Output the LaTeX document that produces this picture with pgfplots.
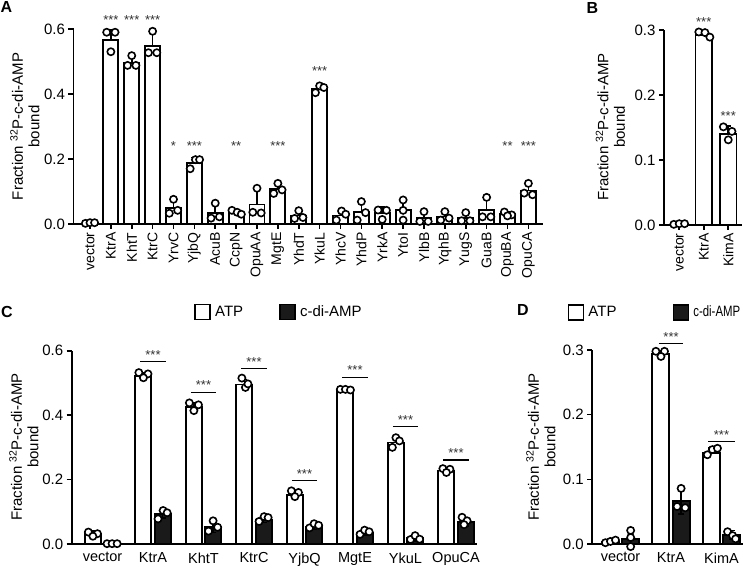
\documentclass[border=0pt]{standalone}
\usepackage{fontspec}
\setmainfont{Liberation Sans}
\usepackage{graphicx}
\usepackage{pgfplots}
\pgfplotsset{compat=1.18}
\definecolor{dark}{HTML}{1A1A1A}
\tikzset{sigstar/.style={anchor=base, font=\fontsize{13}{13}\selectfont, text=black!80}}
\pgfplotsset{
  gp/.style={
    scale only axis, anchor=south west, clip=false,
    axis x line*=bottom, axis y line*=left,
    axis line style={line width=1.9pt, -},
    tick align=outside, major tick length=5pt,
    major tick style={line width=1.6pt, black},
    ymin=0,
    /pgf/number format/assume math mode=true,
    yticklabel style={font=\fontsize{15}{15}\selectfont, /pgf/number format/.cd, fixed, fixed zerofill, precision=1},
    xticklabel style={font=\fontsize{14}{14}\selectfont},
  },
  wbar/.style={ybar, bar shift=0pt, bar width=#1, fill=white, draw=black, line width=1.9pt,
    error bars/.cd, y dir=plus, y explicit,
    error bar style={line width=1.6pt, black},
    error mark options={rotate=90, mark size=3pt, line width=1.6pt, black}},
  kbar/.style={ybar, bar shift=0pt, bar width=#1, fill=dark, draw=black, line width=1.9pt,
    error bars/.cd, y dir=both, y explicit,
    error bar style={line width=1.6pt, black},
    error mark options={rotate=90, mark size=3pt, line width=1.6pt, black}},
  dots/.style={only marks, mark=*, mark size=3.6pt, mark options={fill=white, draw=black, line width=1.6pt}},
  wleg/.style={legend image code/.code={\draw[line width=1.8pt, draw=black, fill=white] (0pt,-7.5pt) rectangle (15pt,7.5pt);}},
  kleg/.style={legend image code/.code={\draw[line width=1.8pt, draw=black, fill=dark] (0pt,-7.5pt) rectangle (15pt,7.5pt);}},
}
\begin{document}
\begin{tikzpicture}
\useasboundingbox (0,0) rectangle (745pt,570pt);
% ---------------- Panel A
\begin{axis}[gp, at={(73.5pt,346pt)}, width=469.5pt, height=195pt,
  xmin=-0.79, xmax=21.7, ymax=0.6, ytick={0,0.2,0.4,0.6},
  xtick={0,...,21},
  xticklabels={vector,KtrA,KhtT,KtrC,YrvC,YjbQ,AcuB,CcpN,OpuAA,MgtE,YhdT,YkuL,YhcV,YhdP,YrkA,YtoI,YlbB,YqhB,YugS,GuaB,OpuBA,OpuCA},
  xticklabel style={rotate=90, anchor=east}]
\addplot[wbar=15pt] table[x=x, y=y, y error=e, row sep=\\] {
x y e\\ 0 0.003 0.002\\ 1 0.567 0.031\\ 2 0.495 0.018\\ 3 0.548 0.040\\ 4 0.050 0.024\\
5 0.189 0.016\\ 6 0.035 0.026\\ 7 0.035 0.009\\ 8 0.060 0.048\\ 9 0.108 0.017\\
10 0.026 0.016\\ 11 0.415 0.013\\ 12 0.026 0.017\\ 13 0.038 0.029\\ 14 0.033 0.019\\
15 0.042 0.033\\ 16 0.018 0.018\\ 17 0.023 0.016\\ 18 0.018 0.016\\ 19 0.042 0.039\\
20 0.030 0.006\\ 21 0.103 0.020\\};
\addplot[dots] table[row sep=\\] {
x y\\ -0.22 0.002\\ 0 0.004\\ 0.22 0.004\\
0.8 0.590\\ 1.2 0.590\\ 1.0 0.530\\
2 0.518\\ 1.8 0.488\\ 2.2 0.488\\
3 0.593\\ 2.8 0.527\\ 3.2 0.527\\
4 0.076\\ 3.8 0.033\\ 4.2 0.042\\
4.8 0.170\\ 5.05 0.198\\ 5.25 0.198\\
6 0.064\\ 5.8 0.018\\ 6.2 0.022\\
6.8 0.042\\ 7.05 0.036\\ 7.25 0.030\\
8 0.110\\ 7.8 0.036\\ 8.2 0.034\\
9 0.125\\ 8.8 0.094\\ 9.2 0.105\\
10 0.041\\ 9.8 0.017\\ 10.2 0.020\\
10.8 0.404\\ 11.0 0.425\\ 11.2 0.420\\
12.05 0.040\\ 11.8 0.012\\ 12.25 0.030\\
13 0.069\\ 12.8 0.012\\ 13.2 0.035\\
13.8 0.043\\ 14.2 0.042\\ 14.0 0.014\\
15 0.074\\ 15 0.042\\ 15 0.012\\
16 0.038\\ 15.8 0.008\\ 16.2 0.008\\
17 0.038\\ 16.8 0.012\\ 17.2 0.018\\
18 0.035\\ 17.8 0.010\\ 18.2 0.010\\
19 0.082\\ 18.8 0.022\\ 19.2 0.022\\
19.85 0.037\\ 20.2 0.028\\ 20.0 0.025\\
21 0.125\\ 20.8 0.095\\ 21.2 0.090\\};
\node[sigstar] at (axis cs:1,0.615) {***};
\node[sigstar] at (axis cs:2,0.615) {***};
\node[sigstar] at (axis cs:3,0.615) {***};
\node[sigstar] at (axis cs:11,0.456) {***};
\node[sigstar] at (axis cs:4,0.227) {*};
\node[sigstar] at (axis cs:5,0.227) {***};
\node[sigstar] at (axis cs:7,0.227) {**};
\node[sigstar] at (axis cs:9,0.227) {***};
\node[sigstar] at (axis cs:20,0.227) {**};
\node[sigstar] at (axis cs:21,0.227) {***};
\end{axis}
% ---------------- Panel B
\begin{axis}[gp, at={(664pt,345pt)}, width=78pt, height=195pt,
  xmin=-0.62, xmax=2.56, ymax=0.3, ytick={0,0.1,0.2,0.3},
  xtick={0,1,2}, xticklabels={vector,KtrA,KimA},
  xticklabel style={rotate=90, anchor=east}]
\addplot[wbar=16.5pt] table[x=x, y=y, y error=e, row sep=\\] {
x y e\\ 0 0.001 0.001\\ 1 0.292 0.006\\ 2 0.140 0.012\\};
\addplot[dots] table[row sep=\\] {
x y\\ -0.22 0.001\\ 0 0.002\\ 0.22 0.002\\
0.8 0.297\\ 1.05 0.296\\ 1.25 0.289\\
1.8 0.151\\ 2.15 0.144\\ 2.0 0.131\\};
\node[sigstar] at (axis cs:1,0.306) {***};
\node[sigstar] at (axis cs:2,0.160) {***};
\end{axis}
% ---------------- Panel C
\begin{axis}[gp, at={(71.7pt,26pt)}, width=405pt, height=193.3pt,
  xmin=-0.61, xmax=7.41, ymax=0.6, ytick={0,0.2,0.4,0.6},
  xtick={0,...,7}, xticklabels={vector,KtrA,KhtT,KtrC,YjbQ,MgtE,YkuL,OpuCA},
  xticklabel style={font=\fontsize{14.5}{14.5}\selectfont},
  major x tick style={draw=none},
  legend columns=2,
  legend style={draw=none, fill=none, at={(axis description cs:0.295,1.2)}, anchor=west,
    font=\fontsize{15}{15}\selectfont, column sep=2pt,
    /tikz/every even column/.append style={column sep=34pt}}]
\addplot[wleg, wbar=16pt]
 table[x=x, y=y, y error=e, row sep=\\] {
x y e\\ -0.19 0.031 0.010\\ 0.81 0.522 0.010\\ 1.81 0.426 0.012\\ 2.81 0.495 0.016\\
3.81 0.152 0.014\\ 4.81 0.477 0.006\\ 5.81 0.315 0.016\\ 6.81 0.228 0.010\\};
\addlegendentry{ATP}
\addplot[kleg, kbar=16pt]
 table[x=x, y=y, y error=e, row sep=\\] {
x y e\\ 0.19 0.001 0.001\\ 1.19 0.092 0.012\\ 2.19 0.054 0.018\\ 3.19 0.076 0.009\\
4.19 0.054 0.009\\ 5.19 0.035 0.008\\ 6.19 0.018 0.010\\ 7.19 0.068 0.013\\};
\addlegendentry{c-di-AMP}
\addplot[forget plot, dots] table[row sep=\\] {
x y\\ -0.28 0.037\\ -0.10 0.032\\ -0.19 0.024\\
0.72 0.532\\ 0.90 0.528\\ 0.81 0.516\\
1.72 0.438\\ 1.90 0.432\\ 1.81 0.414\\
2.76 0.515\\ 2.83 0.486\\ 2.88 0.497\\
3.74 0.165\\ 3.88 0.160\\ 3.81 0.147\\
4.71 0.480\\ 4.81 0.480\\ 4.91 0.478\\
5.74 0.300\\ 5.81 0.330\\ 5.88 0.320\\
6.74 0.234\\ 6.88 0.232\\ 6.81 0.222\\
0.09 0.001\\ 0.19 0.001\\ 0.29 0.001\\
1.10 0.078\\ 1.20 0.104\\ 1.28 0.097\\
2.10 0.040\\ 2.19 0.072\\ 2.28 0.052\\
3.10 0.070\\ 3.20 0.085\\ 3.28 0.082\\
4.10 0.050\\ 4.19 0.063\\ 4.28 0.058\\
5.10 0.030\\ 5.19 0.043\\ 5.28 0.038\\
6.10 0.014\\ 6.19 0.026\\ 6.28 0.015\\
7.12 0.083\\ 7.22 0.072\\ 7.16 0.060\\};
\foreach \i/\v in {1/0.566, 2/0.471, 3/0.544, 4/0.197, 5/0.517, 6/0.364, 7/0.261}{
  \edef\temp{\noexpand\draw[line width=1.3pt] (axis cs:\i-0.25,\v) -- (axis cs:\i+0.25,\v);
    \noexpand\node[sigstar, yshift=2.5pt] at (axis cs:\i,\v) {***};}
  \temp
}
\end{axis}
% ---------------- Panel D
\begin{axis}[gp, at={(592.3pt,26pt)}, width=150.4pt, height=194pt,
  xmin=-0.56, xmax=2.42, ymax=0.3, ytick={0,0.1,0.2,0.3},
  xtick={0,1,2}, xticklabels={vector,KtrA,KimA},
  xticklabel style={font=\fontsize{14.5}{14.5}\selectfont},
  major x tick style={draw=none},
  legend columns=2,
  legend style={draw=none, fill=none, at={(axis description cs:-0.185,1.195)}, anchor=west,
    font=\fontsize{15}{15}\selectfont, column sep=2pt,
    /tikz/every even column/.append style={column sep=54pt}}]
\addplot[wleg, wbar=17pt]
 table[x=x, y=y, y error=e, row sep=\\] {
x y e\\ -0.2 0.003 0.003\\ 0.8 0.294 0.005\\ 1.8 0.141 0.007\\};
\addlegendentry{ATP}
\addplot[kleg, kbar=17pt]
 table[x=x, y=y, y error=e, row sep=\\] {
x y e\\ 0.2 0.008 0.013\\ 1.2 0.066 0.020\\ 2.2 0.014 0.007\\};
\addlegendentry{\scalebox{0.76}[1]{c-di-AMP}}
\addplot[forget plot, dots] table[row sep=\\] {
x y\\ -0.30 0.002\\ -0.20 0.004\\ -0.10 0.006\\
0.2 0.021\\ 0.2 0.010\\ 0.2 -0.004\\
0.70 0.298\\ 0.87 0.298\\ 0.80 0.290\\
1.20 0.086\\ 1.12 0.058\\ 1.28 0.056\\
1.72 0.138\\ 1.82 0.146\\ 1.92 0.148\\
2.12 0.019\\ 2.22 0.013\\ 2.28 0.008\\};
\draw[line width=1.3pt] (axis cs:0.76,0.310) -- (axis cs:1.24,0.310);
\node[sigstar, yshift=2.5pt] at (axis cs:1,0.310) {***};
\draw[line width=1.3pt] (axis cs:1.74,0.158) -- (axis cs:2.27,0.158);
\node[sigstar, yshift=2.5pt] at (axis cs:2,0.158) {***};
\end{axis}
% ---------------- labels
\begin{scope}[every node/.style={font=\fontsize{15}{16.5}\selectfont, align=center, rotate=90}]
\node at (25pt,443.5pt) {Fraction \textsuperscript{32}P-c-di-AMP\\bound};
\node at (610.3pt,443pt) {Fraction \textsuperscript{32}P-c-di-AMP\\bound};
\node at (24pt,123pt) {Fraction \textsuperscript{32}P-c-di-AMP\\bound};
\node at (540.8pt,123pt) {Fraction \textsuperscript{32}P-c-di-AMP\\bound};
\end{scope}
\begin{scope}[every node/.style={font=\bfseries\fontsize{16}{16}\selectfont}]
\node at (6.5pt,562.5pt) {A};
\node at (592.5pt,562pt) {B};
\node at (7pt,258.5pt) {C};
\node at (523pt,260pt) {D};
\end{scope}
\end{tikzpicture}
\end{document}
